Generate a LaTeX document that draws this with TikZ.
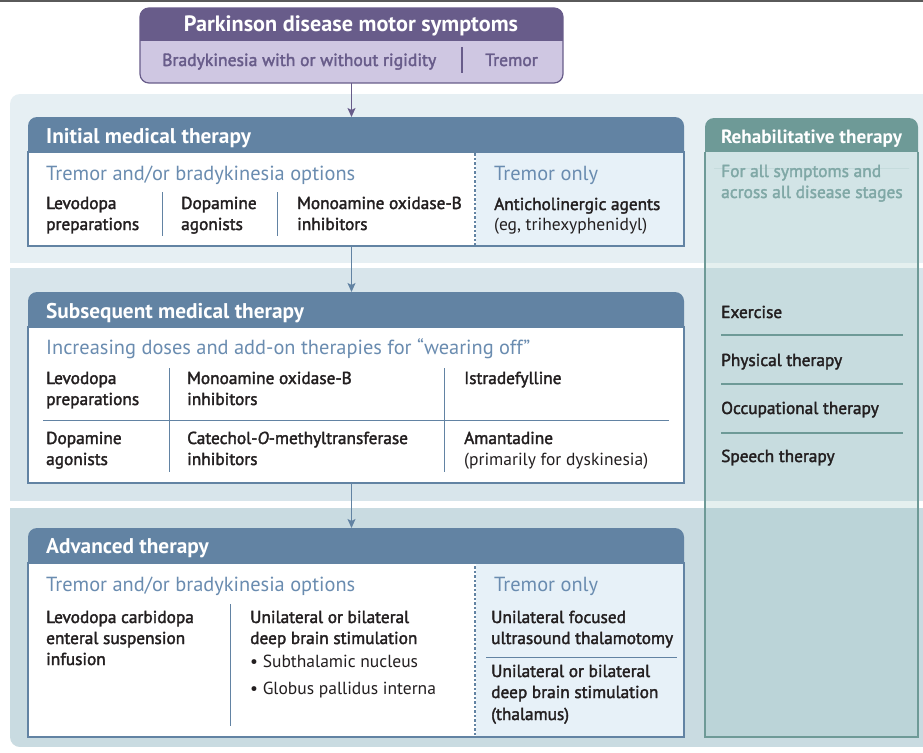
\documentclass[tikz,border=0pt]{standalone}
\usepackage{fontspec}
\setmainfont{PT Sans}
\newfontfamily\medfam[FakeBold=2]{PT Sans}
\usetikzlibrary{arrows.meta}
\definecolor{topline}{HTML}{5A5A5A}
\definecolor{purp}{HTML}{685C8A}
\definecolor{lav}{HTML}{CFC7E2}
\definecolor{band1}{HTML}{E6EFF3}
\definecolor{band2}{HTML}{D8E5EB}
\definecolor{band3}{HTML}{C9DBE1}
\definecolor{hdrblue}{HTML}{6283A3}
\definecolor{subblue}{HTML}{6A8CB0}
\definecolor{lightpanel}{HTML}{E7F1F8}
\definecolor{txt}{HTML}{231F20}
\definecolor{tealhdr}{HTML}{6E9A97}
\definecolor{tealtxt}{HTML}{80A8A6}
\definecolor{tealbody}{RGB}{144,192,187}
\newcommand\ttlfont{\bfseries\fontsize{21.3}{25}\selectfont}
\newcommand\subfont{\fontsize{20.4}{24}\selectfont}
\newcommand\itmfont{\medfam\fontsize{17.3}{20}\selectfont}
\newcommand\regfont{\fontsize{17.5}{20}\selectfont}
\tikzset{
  area/.style={rectangle, inner sep=0pt, outer sep=0pt, anchor=north west},
  ttl/.style={anchor=base west, inner sep=0pt, text=white, font=\ttlfont},
  sub/.style={anchor=base west, inner sep=0pt, text=subblue, font=\subfont},
  itm/.style={anchor=base west, inner sep=0pt, text=txt, font=\itmfont},
  reg/.style={anchor=base west, inner sep=0pt, text=txt, font=\regfont},
  divline/.style={draw=hdrblue, line width=1pt},
  dashline/.style={draw=hdrblue, line width=1.6pt, dash pattern=on 2.5pt off 2pt},
  arr/.style={draw=hdrblue, line width=1.3pt, -{Stealth[length=9pt,width=8pt,inset=2pt]}},
  tealline/.style={draw=tealhdr, line width=1.4pt},
}
\begin{document}
\begin{tikzpicture}[x=1pt,y=-1pt]
\useasboundingbox (0,0) rectangle (923,752);
\fill[white] (0,0) rectangle (923,752);
\draw[topline, line width=1.6pt] (0,0.8) -- (923,0.8);
% bands
\begin{scope}
\clip[rounded corners=10pt] (10,94) rectangle (960,747);
\fill[band1] (10,94) rectangle (930,263);
\fill[band2] (10,268) rectangle (930,501);
\fill[band3] (10,508) rectangle (930,747);
\end{scope}
% area nodes
\node[area, minimum width=423pt, minimum height=75pt] (top) at (140,8) {};
\node[area, minimum width=656pt, minimum height=129pt] (init) at (28,117) {};
\node[area, minimum width=656pt, minimum height=191pt] (subs) at (28,292) {};
\node[area, minimum width=656pt, minimum height=209pt] (adv) at (28,528) {};
\node[area, minimum width=213pt, minimum height=619pt] (rehab) at (705,118) {};
% top box
\begin{scope}
\clip[rounded corners=9pt] (top.north west) rectangle (top.south east);
\fill[lav] (top.north west) rectangle (top.south east);
\fill[purp] (top.north west) rectangle ([yshift=-33pt]top.north east);
\end{scope}
\draw[purp, line width=1.2pt, rounded corners=9pt] (top.north west) rectangle (top.south east);
\node[anchor=base, inner sep=0pt, text=white, font=\bfseries\fontsize{22.2}{26}\selectfont] (toptitle) at (351,32) {Parkinson disease motor symptoms};
\node[anchor=base west, inner sep=0pt, text=purp, font=\medfam\fontsize{17.6}{21}\selectfont] (brady) at (162,66) {Bradykinesia with or without rigidity};
\node[anchor=base west, inner sep=0pt, text=purp, font=\medfam\fontsize{17.6}{21}\selectfont] (trem) at (485,66) {Tremor};
\draw[purp, line width=1.5pt] (462,47) -- (462,73);
% generic therapy box drawing
\foreach \b in {init,subs,adv}{
  \fill[hdrblue, rounded corners=9pt] (\b.north west) rectangle ([yshift=-50pt]\b.north east);
  \filldraw[fill=white, draw=hdrblue, line width=1.2pt] ([yshift=-35pt]\b.north west) rectangle (\b.south east);
}
% ---------- Initial
\fill[lightpanel] (475.5,152.6) rectangle ([xshift=-0.6pt,yshift=0.6pt]init.south east);
\draw[dashline] (475,153) -- (475,246);
\node[ttl] (t1) at (46,143) {Initial medical therapy};
\node[sub] (s1) at (46,180) {Tremor and/or bradykinesia options};
\node[itm] (i1a) at (46,209) {Levodopa};
\node[itm] (i1b) at (46,230) {preparations};
\node[itm] (i1c) at (181,209) {Dopamine};
\node[itm] (i1d) at (181,230) {agonists};
\node[itm] (i1e) at (297,209) {Monoamine oxidase-B};
\node[itm] (i1f) at (297,230) {inhibitors};
\draw[divline] (162,192) -- (162,236);
\draw[divline] (277,192) -- (277,236);
\node[sub] (s1r) at (494,180) {Tremor only};
\node[itm] (i1g) at (494,210) {Anticholinergic agents};
\node[reg] (i1h) at (494,230) {(eg, trihexyphenidyl)};
% ---------- Subsequent
\node[ttl] (t2) at (46,318) {Subsequent medical therapy};
\node[sub] (s2) at (46,354) {Increasing doses and add-on therapies for “wearing off”};
\draw[divline] (43,420) -- (669,420);
\draw[divline] (169,368) -- (169,472);
\draw[divline] (444,368) -- (444,472);
\node[itm] (i2a) at (46,384) {Levodopa};
\node[itm] (i2b) at (46,405) {preparations};
\node[itm] (i2c) at (187,384) {Monoamine oxidase-B};
\node[itm] (i2d) at (187,405) {inhibitors};
\node[itm] (i2e) at (464,384) {Istradefylline};
\node[itm] (i2f) at (46,444) {Dopamine};
\node[itm] (i2g) at (46,465) {agonists};
\node[itm] (i2h) at (187,444) {Catechol-\textit{O}-methyltransferase};
\node[itm] (i2i) at (187,465) {inhibitors};
\node[itm] (i2j) at (464,444) {Amantadine};
\node[reg] (i2k) at (464,465) {(primarily for dyskinesia)};
% ---------- Advanced
\fill[lightpanel] (475.5,563.6) rectangle ([xshift=-0.6pt,yshift=0.6pt]adv.south east);
\draw[dashline] (475,566) -- (475,737);
\node[ttl] (t3) at (46,553) {Advanced therapy};
\node[sub] (s3) at (46,591) {Tremor and/or bradykinesia options};
\draw[divline] (230,604) -- (230,726);
\node[itm] (i3a) at (46,623) {Levodopa carbidopa};
\node[itm] (i3b) at (46,644) {enteral suspension};
\node[itm] (i3c) at (46,665) {infusion};
\node[itm] (i3d) at (250,623) {Unilateral or bilateral};
\node[itm] (i3e) at (250,644) {deep brain stimulation};
\node[reg] (i3f) at (250,667) {• Subthalamic nucleus};
\node[reg] (i3g) at (250,694) {• Globus pallidus interna};
\node[sub] (s3r) at (494,591) {Tremor only};
\node[itm] (i3h) at (491,623) {Unilateral focused};
\node[itm] (i3i) at (491,644) {ultrasound thalamotomy};
\draw[divline] (486,657) -- (677,657);
\node[itm] (i3j) at (491,677) {Unilateral or bilateral};
\node[itm] (i3k) at (491,698) {deep brain stimulation};
\node[itm] (i3l) at (491,720) {(thalamus)};
% ---------- Rehab column
\fill[tealhdr, rounded corners=9pt] (rehab.north west) rectangle ([yshift=-50pt]rehab.north east);
\fill[band1] ([yshift=-34pt]rehab.north west) rectangle ([yshift=-50pt]rehab.north east);
\fill[tealbody, opacity=0.23] ([yshift=-34pt]rehab.north west) rectangle (rehab.south east);
\draw[tealhdr, line width=1.3pt] ([yshift=-34pt]rehab.north west) -- (rehab.south west) -- (rehab.south east) -- ([yshift=-34pt]rehab.north east);
\node[anchor=base, inner sep=0pt, text=white, font=\bfseries\fontsize{19.2}{22}\selectfont] (rt) at (811.5,143) {Rehabilitative therapy};
\node[anchor=base west, inner sep=0pt, text=tealtxt, font=\medfam\fontsize{17.4}{20}\selectfont] (r1) at (721,177) {For all symptoms and};
\node[anchor=base west, inner sep=0pt, text=tealtxt, font=\medfam\fontsize{17.4}{20}\selectfont] (r2) at (721,198) {across all disease stages};
\node[itm] (ex) at (721,318) {Exercise};
\draw[tealline] (721,335) -- (903,335);
\node[itm] (pt) at (721,366) {Physical therapy};
\draw[tealline] (721,384) -- (903,384);
\node[itm] (ot) at (721,414) {Occupational therapy};
\draw[tealline] (721,433) -- (903,433);
\node[itm] (st) at (721,462) {Speech therapy};
% ---------- connectors
\draw[arr, draw=purp] (top.south -| 351.5,0) -- (351.5,0 |- init.north);
\draw[arr] (init.south -| 351.5,0) -- (351.5,0 |- subs.north);
\draw[arr] (subs.south -| 351.5,0) -- (351.5,0 |- adv.north);
\end{tikzpicture}
\end{document}
